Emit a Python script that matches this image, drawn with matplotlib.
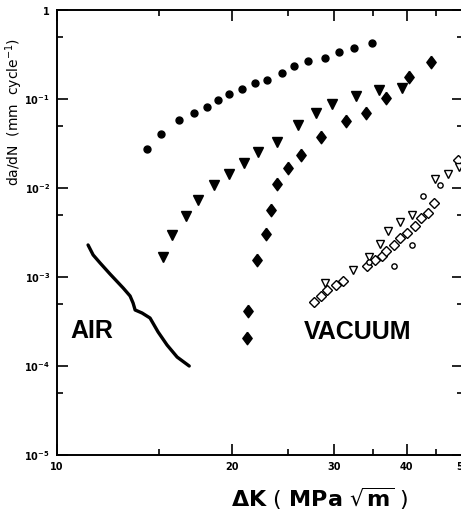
import numpy as np
import matplotlib
matplotlib.use("Agg")
import matplotlib.pyplot as plt
from matplotlib.ticker import NullFormatter, FixedLocator, FixedFormatter

# --- data (dK in MPa sqrt(m), da/dN in mm/cycle) ---
# filled circles
dk_circ = [14.3, 15.1, 16.2, 17.2, 18.1, 18.9, 19.8, 20.8, 21.9, 23.0, 24.4,
           25.6, 27.1, 28.9, 30.6, 32.5, 34.9]
da_circ = [2.74e-2, 4.04e-2, 5.81e-2, 6.96e-2, 8.13e-2, 9.75e-2, 0.114, 0.130,
           0.151, 0.164, 0.196, 0.235, 0.267, 0.289, 0.337, 0.374, 0.426]

# filled triangles
dk_tri = [15.2, 15.8, 16.7, 17.5, 18.6, 19.8, 21.0, 22.2, 23.9, 26.0, 27.9,
          29.8, 32.7, 35.8, 39.2]
da_tri = [1.68e-3, 2.96e-3, 4.85e-3, 7.33e-3, 1.08e-2, 1.44e-2, 1.91e-2,
          2.54e-2, 3.29e-2, 5.10e-2, 6.96e-2, 8.79e-2, 0.108, 0.126, 0.133]

# filled diamonds
dk_dia = [21.2, 21.3, 22.1, 22.9, 23.4, 23.9, 25.0, 26.3, 28.5, 31.5, 34.0,
          36.9, 40.3, 44.0]
da_dia = [2.06e-4, 4.15e-4, 1.55e-3, 3.04e-3, 5.66e-3, 1.11e-2, 1.68e-2,
          2.35e-2, 3.74e-2, 5.66e-2, 6.96e-2, 0.103, 0.177, 0.260]

# vacuum: open diamonds
dk_odia = [27.7, 28.5, 29.2, 30.2, 31.1, 34.2, 35.3, 36.2, 36.9, 38.0, 38.9,
           40.0, 41.3, 42.4, 43.6, 44.5, 49.1]
da_odia = [5.24e-4, 6.12e-4, 7.14e-4, 8.13e-4, 9.02e-4, 1.33e-3, 1.55e-3,
           1.72e-3, 1.96e-3, 2.29e-3, 2.74e-3, 3.12e-3, 3.74e-3, 4.60e-3,
           5.24e-3, 6.78e-3, 2.06e-2]

# vacuum: open triangles
dk_otri = [28.9, 32.3, 34.4, 36.0, 37.2, 39.0, 40.8, 44.7, 47.2, 49.3]
da_otri = [8.56e-4, 1.20e-3, 1.68e-3, 2.35e-3, 3.29e-3, 4.15e-3, 4.97e-3,
           1.26e-2, 1.44e-2, 1.72e-2]

# vacuum: open circles
dk_ocirc = [34.4, 38.0, 40.9, 42.6, 45.7]
da_ocirc = [1.47e-3, 1.33e-3, 2.29e-3, 8.13e-3, 1.08e-2]

# air curve
dk_air = [11.31, 11.54, 11.86, 12.34, 13.00, 13.36, 13.52, 13.63, 14.01,
          14.46, 14.93, 15.47, 16.10, 16.89]
da_air = [2.29e-3, 1.77e-3, 1.44e-3, 1.08e-3, 7.52e-4, 6.12e-4, 5.10e-4,
          4.26e-4, 3.94e-4, 3.46e-4, 2.41e-4, 1.72e-4, 1.26e-4, 1.0e-4]

xmajor = [10, 20, 30, 40, 50]
xminor = [15, 25, 35, 45]
ymajor = [1e-5, 1e-4, 1e-3, 1e-2, 1e-1, 1]
ymajor_lab = [r'$\mathbf{10^{-5}}$', r'$\mathbf{10^{-4}}$', r'$\mathbf{10^{-3}}$',
              r'$\mathbf{10^{-2}}$', r'$\mathbf{10^{-1}}$', r'$\mathbf{1}$']
yminor = [5e-5, 5e-4, 5e-3, 5e-2, 5e-1]

W, H = 461, 514
fig = plt.figure(figsize=(W / 100, H / 100), dpi=100)
fig.patch.set_facecolor('white')

# axes placed in pixels: left 57, right 463 (just off the page), top 10, bottom 455
ax = fig.add_axes([57 / W, (H - 455) / H, 406 / W, 445 / H])
ax.set_xscale('log')
ax.set_yscale('log')
ax.set_xlim(10, 50)
ax.set_ylim(1e-5, 1)

diam = [(0, 1), (0.75, 0), (0, -1), (-0.75, 0), (0, 1)]

ax.plot(dk_air, da_air, color='black', lw=2.4, solid_capstyle='round')
ax.plot(dk_circ, da_circ, 'o', color='black', ms=5.0, ls='none')
ax.plot(dk_tri, da_tri, 'v', color='black', ms=7.5, ls='none')
ax.plot(dk_dia, da_dia, marker=diam, color='black', ms=9, ls='none')
ax.plot(dk_odia, da_odia, 'D', mfc='white', mec='black', mew=1.0, ms=5, ls='none')
ax.plot(dk_otri, da_otri, 'v', mfc='white', mec='black', mew=1.0, ms=6, ls='none')
ax.plot(dk_ocirc, da_ocirc, 'o', mfc='white', mec='black', mew=1.0, ms=3.8, ls='none')

ax.xaxis.set_major_locator(FixedLocator(xmajor))
ax.xaxis.set_major_formatter(FixedFormatter([str(v) for v in xmajor]))
ax.xaxis.set_minor_locator(FixedLocator(xminor))
ax.xaxis.set_minor_formatter(NullFormatter())
ax.yaxis.set_major_locator(FixedLocator(ymajor))
ax.yaxis.set_major_formatter(FixedFormatter(ymajor_lab))
ax.yaxis.set_minor_locator(FixedLocator(yminor))
ax.yaxis.set_minor_formatter(NullFormatter())

ax.tick_params(which='both', direction='in', top=True, right=True, width=1.2)
ax.tick_params(which='major', length=8, labelsize=7, pad=5)
ax.tick_params(which='minor', length=4.5)
for lab in ax.get_xticklabels():
    lab.set_fontweight('bold')
for sp in ax.spines.values():
    sp.set_linewidth(1.4)

fig.text(14 / W, 1 - 112 / H, r'da/dN  (mm  cycle$^{-1}$)', rotation=90,
         ha='center', va='center', fontsize=10)
fig.text(320 / W, 1 - 499 / H,
         r'$\mathbf{\Delta K}\ \left(\ \mathbf{MPa}\ \sqrt{\mathbf{m}}\ \right)$',
         ha='center', va='center', fontsize=16)

bigfont = dict(family='Liberation Sans', fontweight='bold',
               fontsize=18, ha='center', va='center')
fig.text(92 / W, 1 - 331 / H, 'AIR', **bigfont)
fig.text(358 / W, 1 - 332 / H, 'VACUUM', **bigfont)

fig.savefig('out.png', dpi=100)
